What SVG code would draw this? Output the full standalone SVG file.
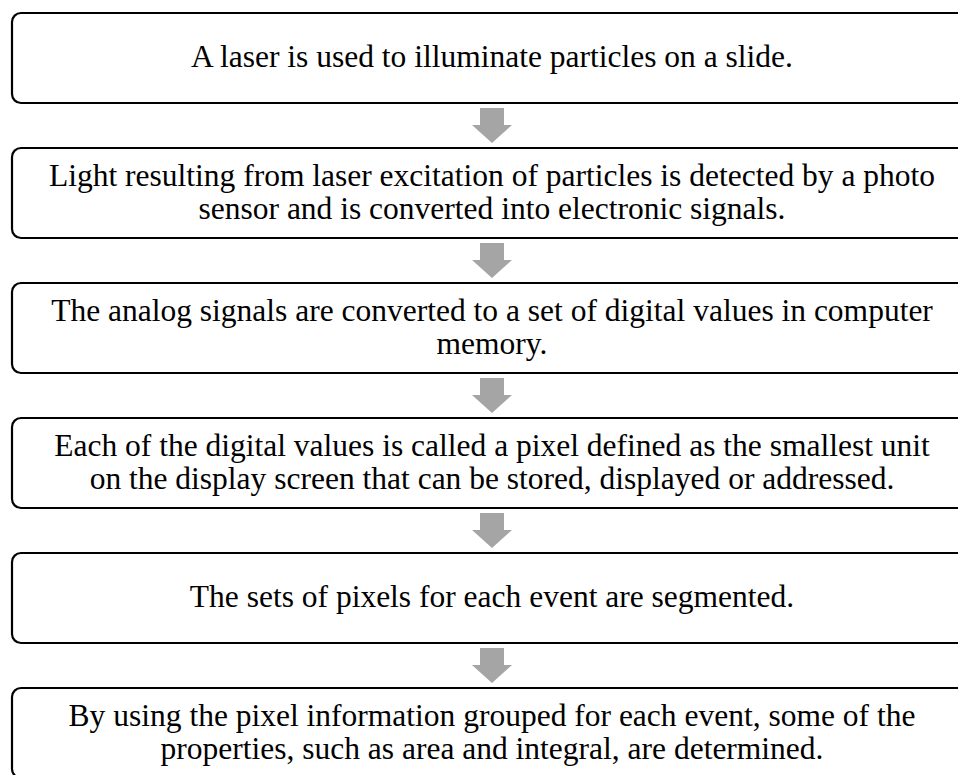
<svg xmlns="http://www.w3.org/2000/svg" width="958" height="775" viewBox="0 0 958 775">
<style>
.box{fill:#fff;stroke:#000;stroke-width:2.2}
.t{font-family:"Liberation Serif","Times New Roman",serif;font-size:31.5px;fill:#000;text-anchor:middle}
.arr{fill:#A5A5A5}
</style>
<defs>
<path id="dn" d="M480,0 H504 V17 H512 L492,35 L472,17 H480 Z"/>
</defs>
<rect width="958" height="775" fill="#fff"/>
<g id="connectors">
<use href="#dn" class="arr" y="108"/>
<use href="#dn" class="arr" y="243"/>
<use href="#dn" class="arr" y="378"/>
<use href="#dn" class="arr" y="513"/>
<use href="#dn" class="arr" y="648"/>
</g>
<g id="n1"><rect class="box" x="12" y="13" width="960" height="90" rx="9"/>
<text class="t" x="492" y="67">A laser is used to illuminate particles on a slide.</text></g>
<g id="n2"><rect class="box" x="12" y="148" width="960" height="90" rx="9"/>
<text class="t" x="492" y="186">Light resulting from laser excitation of particles is detected by a photo</text>
<text class="t" x="492" y="219">sensor and is converted into electronic signals.</text></g>
<g id="n3"><rect class="box" x="12" y="283" width="960" height="90" rx="9"/>
<text class="t" x="492" y="321">The analog signals are converted to a set of digital values in computer</text>
<text class="t" x="492" y="354">memory.</text></g>
<g id="n4"><rect class="box" x="12" y="418" width="960" height="90" rx="9"/>
<text class="t" x="492" y="456">Each of the digital values is called a pixel defined as the smallest unit</text>
<text class="t" x="492" y="489">on the display screen that can be stored, displayed or addressed.</text></g>
<g id="n5"><rect class="box" x="12" y="553" width="960" height="90" rx="9"/>
<text class="t" x="492" y="607">The sets of pixels for each event are segmented.</text></g>
<g id="n6"><rect class="box" x="12" y="688" width="960" height="90" rx="9"/>
<text class="t" x="492" y="726">By using the pixel information grouped for each event, some of the</text>
<text class="t" x="492" y="759">properties, such as area and integral, are determined.</text></g>
</svg>
